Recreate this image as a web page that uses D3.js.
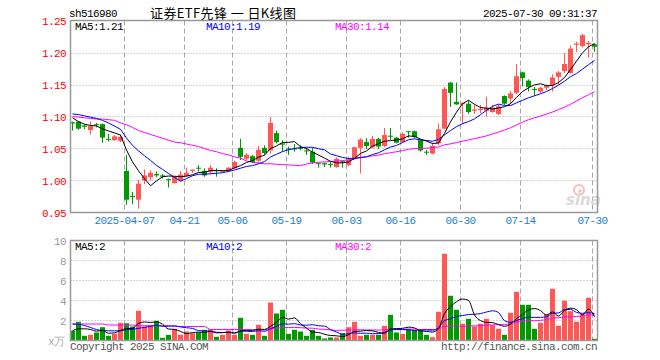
<!DOCTYPE html>
<html>
<head>
<meta charset="utf-8">
<script src="https://cdn.jsdelivr.net/npm/d3@7/dist/d3.min.js"></script>
<style>
  body { margin: 0; background: #fff; }
  text { font-family: "Liberation Mono", "DejaVu Sans Mono", monospace; font-size: 11px; letter-spacing: -0.6px; }
</style>
</head>
<body>
<svg id="chart" width="660" height="360"></svg>
<script>
// trading days shown, 2025-03-24 .. 2025-07-30
var dates = [
  "03-24","03-25","03-26","03-27","03-28","03-31",
  "04-01","04-02","04-03","04-07","04-08","04-09","04-10","04-11","04-14","04-15","04-16","04-17","04-18",
  "04-21","04-22","04-23","04-24","04-25","04-28","04-29","04-30",
  "05-06","05-07","05-08","05-09","05-12","05-13","05-14","05-15","05-16","05-19","05-20","05-21","05-22",
  "05-23","05-26","05-27","05-28","05-29","05-30",
  "06-03","06-04","06-05","06-06","06-09","06-10","06-11","06-12","06-13","06-16","06-17","06-18","06-19",
  "06-20","06-23","06-24","06-25","06-26","06-27","06-30",
  "07-01","07-02","07-03","07-04","07-07","07-08","07-09","07-10","07-11","07-14","07-15","07-16","07-17",
  "07-18","07-21","07-22","07-23","07-24","07-25","07-28","07-29","07-30"
];

var open = [1.091,1.092,1.086,1.079,1.088,1.088,1.065,1.063,1.062,1.015,
  0.976,0.970,1.000,1.005,1.010,1.008,1.002,0.996,1.000,1.007,
  1.015,1.020,1.015,1.014,1.016,1.014,1.015,1.019,1.051,1.034,
  1.038,1.031,1.051,1.047,1.074,1.058,1.050,1.050,1.051,1.047,
  1.045,1.027,1.027,1.026,1.021,1.030,1.024,1.034,1.051,1.060,
  1.052,1.065,1.054,1.070,1.067,1.060,1.077,1.077,1.063,1.045,
  1.042,1.058,1.081,1.153,1.123,1.119,1.120,1.109,1.110,1.109,
  1.107,1.104,1.132,1.128,1.137,1.169,1.156,1.143,1.139,1.145,
  1.149,1.162,1.171,1.168,1.212,1.210,1.213,1.213];
var high = [1.092,1.093,1.088,1.092,1.090,1.089,1.073,1.071,1.072,1.040,
  0.982,1.001,1.017,1.016,1.014,1.010,1.003,1.007,1.015,1.020,
  1.017,1.024,1.019,1.024,1.019,1.016,1.021,1.031,1.065,1.043,
  1.040,1.054,1.055,1.099,1.078,1.063,1.053,1.057,1.055,1.051,
  1.051,1.028,1.028,1.029,1.036,1.031,1.037,1.053,1.066,1.066,
  1.070,1.067,1.082,1.082,1.068,1.075,1.077,1.078,1.064,1.048,
  1.059,1.089,1.146,1.154,1.153,1.122,1.125,1.118,1.118,1.131,
  1.118,1.119,1.133,1.140,1.182,1.170,1.158,1.146,1.146,1.150,
  1.166,1.171,1.199,1.211,1.217,1.229,1.218,1.214];
var low = [1.078,1.079,1.080,1.072,1.083,1.059,1.061,1.062,1.060,0.962,
  0.963,0.956,0.994,1.000,1.005,1.003,0.989,0.995,0.999,1.006,
  1.012,1.014,1.006,1.010,1.006,1.013,1.014,1.018,1.032,1.032,
  1.027,1.028,1.040,1.042,1.058,1.045,1.040,1.045,1.047,1.040,
  1.026,1.020,1.021,1.020,1.020,1.020,1.022,1.033,1.011,1.049,
  1.050,1.049,1.052,1.063,1.058,1.059,1.067,1.066,1.045,1.040,
  1.041,1.055,1.080,1.115,1.118,1.088,1.104,1.104,1.105,1.100,
  1.106,1.102,1.118,1.119,1.135,1.147,1.139,1.132,1.137,1.141,
  1.139,1.150,1.168,1.167,1.201,1.208,1.192,1.201];
var close = [1.089,1.081,1.084,1.085,1.087,1.067,1.064,1.069,1.068,0.970,
  0.974,0.995,1.008,1.012,1.008,1.006,1.001,1.006,1.009,1.012,
  1.017,1.019,1.008,1.020,1.015,1.015,1.020,1.029,1.037,1.040,
  1.029,1.048,1.043,1.090,1.060,1.056,1.049,1.049,1.050,1.046,
  1.028,1.026,1.025,1.025,1.034,1.028,1.033,1.052,1.064,1.054,
  1.065,1.053,1.071,1.069,1.059,1.073,1.076,1.068,1.047,1.044,
  1.054,1.080,1.143,1.137,1.119,1.121,1.107,1.111,1.112,1.114,
  1.114,1.116,1.120,1.136,1.163,1.160,1.146,1.142,1.145,1.148,
  1.161,1.169,1.182,1.206,1.214,1.227,1.215,1.209];
// volume, 万手
var volume = [0.97,1.87,0.47,0.57,0.8,1.33,0.47,0.67,1.77,1.73,
  1.4,2.97,1.4,1.53,1.97,0.27,0.57,1.17,0.57,0.9,
  0.73,0.8,1.07,1.13,0.37,0.57,1.0,0.57,2.27,0.67,
  0.57,1.57,0.47,3.8,2.7,3.07,0.67,1.07,0.9,0.47,
  1.07,0.47,0.2,0.3,0.3,0.73,1.33,1.87,0.47,0.57,
  0.57,0.57,1.47,2.57,0.8,0.67,1.17,1.07,1.07,0.57,
  0.33,2.87,8.67,4.47,3.07,1.67,2.17,1.4,1.67,2.17,
  1.53,1.17,0.57,2.77,4.87,3.57,3.57,1.17,1.77,2.63,
  5.17,1.47,3.97,2.93,1.87,2.63,4.27,0.17];

// MA values before enough days are on screen
var ma5Head = [1.098,1.092,1.088,1.086];
var ma10Head = [1.104,1.103,1.101,1.099,1.097,1.094,1.090,1.085,1.080];
var ma30Head = [1.100,1.099,1.098,1.097,1.096,1.096,1.095,1.094,1.090,1.087,
  1.083,1.078,1.075,1.072,1.069,1.066,1.063,1.060,1.059,1.057,
  1.055,1.053,1.050,1.047,1.045,1.042,1.040,1.037,1.035];
var vma5Head = [0.97,1.17,1.17,1.1];
var vma10Head = [1.65,1.62,1.5,1.3,1.1,1.0,0.97,0.97,0.97];
var vma30Head = [1.65,1.65,1.65,1.65,1.65,1.65,1.55,1.55,1.55,1.55,
  1.55,1.48,1.48,1.48,1.48,1.48,1.48,1.40,1.40,1.40,
  1.40,1.40,1.40,1.10,1.10,1.10,1.10,1.10,1.10];

var priceTicks = [0.95,1.00,1.05,1.10,1.15,1.20,1.25];
var volTicks = [2,4,6,8,10];
var tickDates = ["04-07","04-21","05-06","05-19","06-03","06-16","06-30","07-14","07-30"];
var tickLabels = ["2025-04-07","04-21","05-06","05-19","06-03","06-16","06-30","07-14","07-30"];

var code = "sh516980";
var title = "证券ETF先锋 一 日K线图";
var stamp = "2025-07-30 09:31:37";

var RED = "#ff5656", GREEN = "#009a00", GRID = "#a8a8a8";
var left = 70.5, right = 597.5, pTop = 20.5, pBot = 212.5, vTop = 240.5, vBot = 340.5;

function movingAvg(vals, n, head) {
  return vals.map(function(v, i) {
    return i < n - 1 ? head[i] : d3.mean(vals.slice(i - n + 1, i + 1));
  });
}

var svg = d3.select("#chart");

var x = d3.scaleBand().domain(dates).range([69, 597]).padding(0);
var y = d3.scaleLinear().domain([0.95, 1.25]).range([pBot, pTop]);
var yv = d3.scaleLinear().domain([0, 10]).range([vBot, vTop]);
function cx(i) { return x(dates[i]) + 3.5; }

// header
svg.append("text").attr("x", 69).attr("y", 17).attr("fill", "#000").text(code);
svg.append("text").attr("x", 150).attr("y", 18).attr("fill", "#000")
  .attr("textLength", 146).attr("lengthAdjust", "spacing")
  .style("font-family", "'Noto Sans CJK SC', sans-serif").style("font-size", "13px").style("letter-spacing", "0")
  .text(title);
svg.append("text").attr("x", 597).attr("y", 17).attr("text-anchor", "end").attr("fill", "#000").text(stamp);

// grid
var grid = svg.append("g");
grid.selectAll(".hp").data(priceTicks.slice(1, -1)).enter().append("line")
  .attr("x1", left).attr("x2", right)
  .attr("y1", function(d) { return Math.round(y(d)) + 0.5; })
  .attr("y2", function(d) { return Math.round(y(d)) + 0.5; })
  .attr("stroke", GRID).attr("stroke-dasharray", "1,2");
grid.selectAll(".hv").data(volTicks.slice(0, -1)).enter().append("line")
  .attr("x1", left).attr("x2", right)
  .attr("y1", function(d) { return yv(d); }).attr("y2", function(d) { return yv(d); })
  .attr("stroke", GRID).attr("stroke-dasharray", "1,2");
[[pTop, pBot], [vTop, vBot]].forEach(function(r) {
  grid.selectAll(null).data(tickDates).enter().append("line")
    .attr("x1", function(d) { return x(d) + 1.5; }).attr("x2", function(d) { return x(d) + 1.5; })
    .attr("y1", r[0]).attr("y2", r[1])
    .attr("stroke", GRID).attr("stroke-dasharray", "5,3");
});

// axis labels
svg.append("g").selectAll("text").data(priceTicks).enter().append("text")
  .attr("x", 66).attr("y", function(d) { return y(d) + 4; })
  .attr("text-anchor", "end").attr("fill", "#ff0000")
  .text(d3.format(".2f"));
svg.append("g").selectAll("text").data(volTicks).enter().append("text")
  .attr("x", 66).attr("y", function(d) { return yv(d) + 4; })
  .attr("text-anchor", "end").attr("fill", "#999")
  .text(function(d) { return d; });
svg.append("text").attr("x", 48).attr("y", 345).attr("fill", "#aaa").text("x万");
svg.append("g").selectAll("text").data(tickDates).enter().append("text")
  .attr("x", function(d) { return x(d) + 1.5; }).attr("y", 224)
  .attr("text-anchor", "middle").attr("fill", "#1a80d0")
  .text(function(d, i) { return tickLabels[i]; });

// watermark
var wm = svg.append("g").attr("opacity", 0.9);
wm.append("circle").attr("cx", 579).attr("cy", 190).attr("r", 5).attr("fill", "none").attr("stroke", "#f2b9b9").attr("stroke-width", 2);
wm.append("circle").attr("cx", 580).attr("cy", 191).attr("r", 1.8).attr("fill", "#f2b9b9");
wm.append("text").attr("x", 566).attr("y", 205).attr("fill", "#d6d6d6")
  .style("font-family", "'DejaVu Sans', sans-serif").style("font-size", "15px")
  .style("font-style", "italic").style("font-weight", "bold").style("letter-spacing", "0").text("sina");

// candles
var idx = d3.range(dates.length);
function col(i) { return close[i] >= open[i] ? RED : GREEN; }
var candles = svg.append("g").selectAll("g").data(idx).enter().append("g");
candles.append("line")
  .attr("x1", cx).attr("x2", cx)
  .attr("y1", function(i) { return y(high[i]); }).attr("y2", function(i) { return y(low[i]); })
  .attr("stroke", col);
candles.append("rect")
  .attr("x", function(i) { return x(dates[i]) + 1; })
  .attr("width", 5)
  .attr("y", function(i) { return y(Math.max(open[i], close[i])); })
  .attr("height", function(i) { return Math.max(1, y(Math.min(open[i], close[i])) - y(Math.max(open[i], close[i]))); })
  .attr("fill", col);

// volume bars
svg.append("g").selectAll("rect").data(idx).enter().append("rect")
  .attr("x", function(i) { return x(dates[i]) + 1; })
  .attr("width", 5)
  .attr("y", function(i) { return yv(volume[i]); })
  .attr("height", function(i) { return vBot - yv(volume[i]); })
  .attr("fill", col);

// moving averages
var ma5 = movingAvg(close, 5, ma5Head), ma10 = movingAvg(close, 10, ma10Head), ma30 = movingAvg(close, 30, ma30Head);
var vma5 = movingAvg(volume, 5, vma5Head), vma10 = movingAvg(volume, 10, vma10Head), vma30 = movingAvg(volume, 30, vma30Head);
var pline = d3.line().x(function(d, i) { return cx(i); }).y(function(d) { return y(d); });
var vline = d3.line().x(function(d, i) { return cx(i); }).y(function(d) { return yv(d); }).curve(d3.curveMonotoneX);
[[ma30, "#ff00ff"], [ma10, "#0000ff"], [ma5, "#000"]].forEach(function(m) {
  svg.append("path").attr("d", pline(m[0])).attr("fill", "none").attr("stroke", m[1]).attr("stroke-width", 1);
});
[[vma30, "#ff00ff"], [vma10, "#0000ff"], [vma5, "#000"]].forEach(function(m) {
  svg.append("path").attr("d", vline(m[0])).attr("fill", "none").attr("stroke", m[1]).attr("stroke-width", 1);
});

// frames
[[pTop, pBot], [vTop, vBot]].forEach(function(r) {
  svg.append("rect").attr("x", left).attr("y", r[0]).attr("width", right - left).attr("height", r[1] - r[0])
    .attr("fill", "none").attr("stroke", "#999").attr("stroke-width", 1.5);
});

// MA legends
var last = dates.length - 1, f2 = d3.format(".2f");
function legend(yy, items) {
  items.forEach(function(it) {
    svg.append("text").attr("x", it[0]).attr("y", yy).attr("fill", it[1]).text(it[2]);
  });
}
legend(30, [[75, "#000", "MA5:" + f2(ma5[last])], [206, "#0000ff", "MA10:" + f2(ma10[last])], [335, "#ff00ff", "MA30:" + f2(ma30[last])]]);
legend(250, [[75, "#000", "MA5:" + Math.floor(vma5[last])], [206, "#0000ff", "MA10:" + Math.floor(vma10[last])], [335, "#ff00ff", "MA30:" + Math.floor(vma30[last])]]);

// footer
svg.append("text").attr("x", 70).attr("y", 350).attr("fill", "#555").text("Copyright 2025 SINA.COM");
svg.append("text").attr("x", 597).attr("y", 350).attr("text-anchor", "end").attr("fill", "#555").text("http://finance.sina.com.cn");
</script>
</body>
</html>
